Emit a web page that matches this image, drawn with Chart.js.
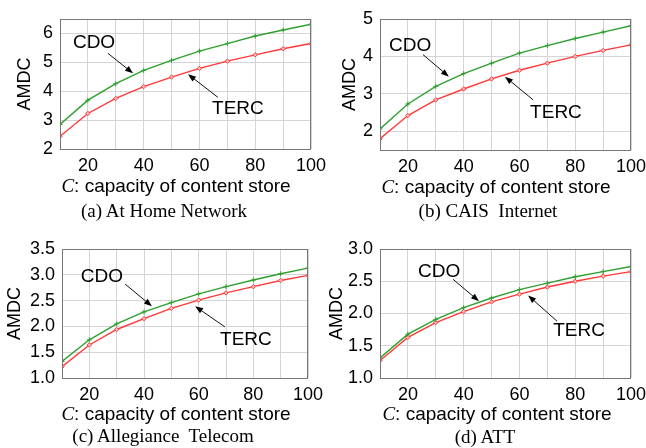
<!DOCTYPE html>
<html>
<head>
<meta charset="utf-8">
<script src="https://cdn.jsdelivr.net/npm/chart.js@4.4.1/dist/chart.umd.min.js"></script>
<style>
  body { margin: 0; background: #fff; width: 646px; height: 448px; position: relative; overflow: hidden; }
  canvas { position: absolute; }
  .lbl { position: absolute; transform: translate(-50%, -50%); white-space: pre; color: #000; }
  .xt { font: 19px "Liberation Sans", Arial, sans-serif; }
  .xt i { font-family: "Liberation Serif", serif; }
  .cap { font: 19px "Liberation Serif", "Times New Roman", serif; }
</style>
</head>
<body>
<canvas id="chartA"></canvas>
<canvas id="chartB"></canvas>
<canvas id="chartC"></canvas>
<canvas id="chartD"></canvas>

<div class="lbl xt" style="left:176px;top:186px"><i>C</i>: capacity of content store</div>
<div class="lbl xt" style="left:496px;top:187px"><i>C</i>: capacity of content store</div>
<div class="lbl xt" style="left:176px;top:414px"><i>C</i>: capacity of content store</div>
<div class="lbl xt" style="left:497px;top:414px"><i>C</i>: capacity of content store</div>

<div class="lbl cap" style="left:164px;top:211px">(a) At Home Network</div>
<div class="lbl cap" style="left:488px;top:211px">(b) CAIS  Internet</div>
<div class="lbl cap" style="left:163px;top:436px">(c) Allegiance  Telecom</div>
<div class="lbl cap" style="left:485px;top:437px">(d) ATT</div>

<script>
// capacity of content store (x axis)
const capacity = [10, 20, 30, 40, 50, 60, 70, 80, 90, 100];

// AMDC values
const cdoHome  = [2.85, 3.69, 4.26, 4.72, 5.07, 5.39, 5.65, 5.91, 6.12, 6.32];
const tercHome = [2.44, 3.23, 3.75, 4.16, 4.49, 4.79, 5.04, 5.26, 5.47, 5.65];
const cdoCais  = [2.06, 2.73, 3.20, 3.54, 3.82, 4.09, 4.29, 4.48, 4.65, 4.82];
const tercCais = [1.80, 2.42, 2.84, 3.13, 3.40, 3.63, 3.82, 4.00, 4.16, 4.31];
const cdoAlleg  = [1.32, 1.74, 2.05, 2.28, 2.46, 2.63, 2.77, 2.90, 3.02, 3.13];
const tercAlleg = [1.22, 1.64, 1.94, 2.15, 2.35, 2.51, 2.65, 2.77, 2.89, 2.99];
const cdoAtt  = [1.31, 1.68, 1.91, 2.09, 2.24, 2.37, 2.47, 2.57, 2.65, 2.73];
const tercAtt = [1.27, 1.63, 1.86, 2.03, 2.18, 2.30, 2.41, 2.50, 2.58, 2.65];

const GREEN = '#2f9f2f';
const RED = '#ff3838';
const SANS = '"Liberation Sans", Arial, sans-serif';

const panels = [
  { id: 'chartA', left: 0, top: 0, w: 330, h: 224, area: { l: 60, r: 311, t: 19, b: 149 },
    y: { min: 2, max: 6.5, step: 1, dec: 0 }, titleX: 25, cdo: cdoHome, terc: tercHome,
    notes: [
      { label: 'CDO', tx: 22.2, ty: 5.69, x1: 27.2, y1: 5.31, x2: 36.2, y2: 4.62 },
      { label: 'TERC', tx: 73.8, ty: 3.41, x1: 66.6, y1: 3.79, x2: 55.9, y2: 4.59 }
    ] },
  { id: 'chartB', left: 320, top: 0, w: 326, h: 224, area: { l: 60, r: 311, t: 19, b: 150 },
    y: { min: 1.5, max: 5, step: 1, dec: 0 }, titleX: 30, cdo: cdoCais, terc: tercCais,
    notes: [
      { label: 'CDO', tx: 20.8, ty: 4.29, x1: 25.4, y1: 4.05, x2: 34.7, y2: 3.46 },
      { label: 'TERC', tx: 73.1, ty: 2.49, x1: 64.9, y1: 2.84, x2: 54.8, y2: 3.46 }
    ] },
  { id: 'chartC', left: 0, top: 224, w: 330, h: 224, area: { l: 62, r: 308, t: 25, b: 154 },
    y: { min: 1, max: 3.5, step: 0.5, dec: 1 }, titleX: 15, cdo: cdoAlleg, terc: tercAlleg,
    notes: [
      { label: 'CDO', tx: 24.6, ty: 2.97, x1: 33.1, y1: 2.82, x2: 42.9, y2: 2.39 },
      { label: 'TERC', tx: 77.3, ty: 1.74, x1: 69.6, y1: 1.99, x2: 58.7, y2: 2.39 }
    ] },
  { id: 'chartD', left: 320, top: 224, w: 326, h: 224, area: { l: 60, r: 311, t: 25, b: 154 },
    y: { min: 1, max: 3, step: 0.5, dec: 1 }, titleX: 17, cdo: cdoAtt, terc: tercAtt,
    notes: [
      { label: 'CDO', tx: 31.2, ty: 2.65, x1: 36.2, y1: 2.53, x2: 45.5, y2: 2.19 },
      { label: 'TERC', tx: 81.4, ty: 1.74, x1: 73.5, y1: 1.88, x2: 63.1, y2: 2.28 }
    ] }
];

// frame, y title and the CDO / TERC arrows
const decorPlugin = {
  id: 'decor',
  afterDraw(chart, args, opts) {
    const { ctx, chartArea: a } = chart;
    const xs = chart.scales.x, ys = chart.scales.y;
    ctx.save();
    ctx.strokeStyle = '#777';
    ctx.lineWidth = 1;
    ctx.strokeRect(a.left + 0.5, a.top + 0.5, a.right - a.left - 1, a.bottom - a.top);

    ctx.fillStyle = '#000';
    ctx.strokeStyle = '#111';
    ctx.font = '19px ' + SANS;
    ctx.textAlign = 'center';
    ctx.textBaseline = 'middle';
    opts.notes.forEach(n => {
      ctx.fillText(n.label, xs.getPixelForValue(n.tx), ys.getPixelForValue(n.ty));
      const x1 = xs.getPixelForValue(n.x1), y1 = ys.getPixelForValue(n.y1);
      const x2 = xs.getPixelForValue(n.x2), y2 = ys.getPixelForValue(n.y2);
      const ang = Math.atan2(y2 - y1, x2 - x1);
      ctx.beginPath();
      ctx.moveTo(x1, y1);
      ctx.lineTo(x2 - 6 * Math.cos(ang), y2 - 6 * Math.sin(ang));
      ctx.stroke();
      ctx.beginPath();
      ctx.moveTo(x2, y2);
      ctx.lineTo(x2 - 8 * Math.cos(ang) + 3 * Math.sin(ang), y2 - 8 * Math.sin(ang) - 3 * Math.cos(ang));
      ctx.lineTo(x2 - 8 * Math.cos(ang) - 3 * Math.sin(ang), y2 - 8 * Math.sin(ang) + 3 * Math.cos(ang));
      ctx.closePath();
      ctx.fill();
    });

    ctx.translate(opts.titleX, (a.top + a.bottom) / 2);
    ctx.rotate(-Math.PI / 2);
    ctx.font = '18px ' + SANS;
    ctx.fillText('AMDC', 0, 0);
    ctx.restore();
  }
};

panels.forEach(p => {
  const cv = document.getElementById(p.id);
  cv.width = p.w;
  cv.height = p.h;
  cv.style.left = p.left + 'px';
  cv.style.top = p.top + 'px';
  cv.style.width = p.w + 'px';
  cv.style.height = p.h + 'px';

  new Chart(cv, {
    type: 'line',
    data: {
      labels: capacity,
      datasets: [
        { label: 'CDO', data: p.cdo, borderColor: GREEN, backgroundColor: GREEN,
          borderWidth: 1.4, pointStyle: 'cross', pointRadius: 2.5, pointBorderWidth: 1 },
        { label: 'TERC', data: p.terc, borderColor: RED, backgroundColor: '#ffc0c0',
          borderWidth: 1.4, pointStyle: 'rectRot', pointRadius: 2.2, pointBorderWidth: 1 }
      ]
    },
    options: {
      responsive: false,
      animation: false,
      layout: { padding: { left: 0, top: p.area.t, right: p.w - p.area.r, bottom: p.h - p.area.b - 30 } },
      plugins: {
        legend: { display: false },
        tooltip: { enabled: false },
        decor: { notes: p.notes, titleX: p.titleX }
      },
      scales: {
        x: {
          type: 'linear', min: 10, max: 100,
          grid: { color: '#d4d4d4', drawTicks: false },
          border: { display: false },
          ticks: { stepSize: 10, autoSkip: false, maxRotation: 0, padding: 6, color: '#000',
                   font: { family: SANS, size: 18 },
                   callback: v => (v % 20 === 0 ? v : '') },
          afterFit(s) { s.height = 30; s.paddingLeft = 0; s.paddingRight = 0; }
        },
        y: {
          min: p.y.min, max: p.y.max,
          grid: { color: '#d4d4d4', drawTicks: false },
          border: { display: false },
          ticks: { stepSize: p.y.step, includeBounds: false, padding: 7, color: '#000',
                   font: { family: SANS, size: 18 },
                   callback: v => v.toFixed(p.y.dec) },
          afterFit(s) { s.width = p.area.l; s.paddingTop = 0; s.paddingBottom = 0; }
        }
      }
    },
    plugins: [decorPlugin]
  });
});
</script>
</body>
</html>
